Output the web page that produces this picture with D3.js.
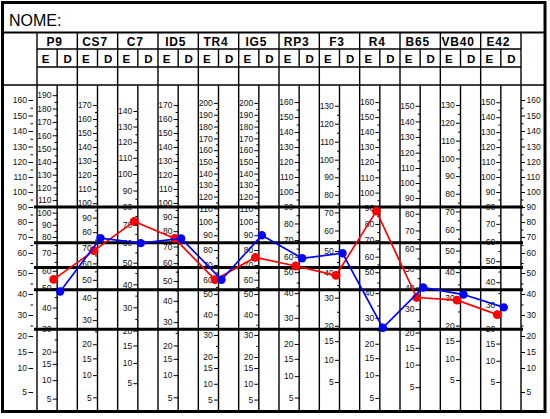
<!DOCTYPE html>
<html><head><meta charset="utf-8">
<script src="https://cdn.jsdelivr.net/npm/d3@7"></script>
<style>html,body{margin:0;padding:0;background:#fff;} svg{display:block;}</style>
</head><body><svg id="c" width="550" height="419"></svg>
<script>
// ---------- DATA ----------
const title = "NOME:";
const tests = ["P9","CS7","C7","ID5","TR4","IG5","RP3","F3","R4","B65","VB40","E42"];
const sides = ["E","D"];
// raw scores, E side (red) and D side (blue)
const valuesE = [55,68,72,75,60,75,54,39,88,35,29,26];
const valuesD = [48,76,60,75,60,90,59,49,26,40,31,29];
// top labelled tick of each test's own scale
const topTicks = [190,170,140,170,200,200,160,130,160,150,130,150];
const lowTicks = [15,10,5];
// common (standard) scale ticks shown on left and right
const stdTicks = [160,150,140,130,120,110,100,90,80,70,60,50,40,30,20,15,10,5];
// conversion table: standard levels -> raw score of each test
const stdLevels = [160,120,90,70,60,50,40,20,10,5];
const normTable = [
  [186.4,140,104.6,80,70,58.75,46.5,26.4,13.3,6.8],   // P9
  [173.6,129.3,97.3,76.7,66.5,54,41.7,22.9,11.6,6.2],  // CS7
  [147,107.3,80,63.3,54.7,45,35.7,17.7,8.6,2.9],       // C7
  [173.6,129.3,97.1,75.9,66,54.2,43.2,23.5,11.6,6.2],  // ID5
  [202.5,150,111,88.7,78,64.7,50,29.5,15,7.4],         // TR4
  [202.5,150,111,88.7,78,64.7,50,29.5,15,7.4],         // IG5
  [161.4,120,90,71.8,62.4,49.5,39.6,22.7,11.9,6.3],    // RP3
  [133.2,98.7,73,56.4,49.1,40,31.3,16.4,7.8,3],        // F3
  [161.4,120,90.6,71.9,62.4,49.5,39.6,22.7,11.6,6.3],  // R4
  [153.7,114,84,66.1,57.6,47.8,36.5,18.5,9,4],         // B65
  [132.8,98,72.5,55.7,49,39.6,31.2,16.3,7.6,2.4],      // VB40
  [151.5,110,80,62.2,54,44.3,34.5,17.2,7.9,2.9]        // E42
];
// bold reference lines on the standard scale
const cutLines = [90,66.4,52.75,42,23.2];

// ---------- LAYOUT ----------
const svg = d3.select("#c");
const F = {x0:2.5, y0:2.5, x1:545, y1:411.5};
const yTitleLine = 32.5, yNameLine = 49, yEDLine = 67, yHeadLine = 85;
const gridX0 = 37, gridX1 = 521;
const stdY = [100,162,207,237,253,273,294,336,368,392];
const yStd = d3.scaleLinear().domain(stdLevels).range(stdY);
const xCol = d3.scaleBand().domain(tests).range([gridX0, gridX1]);
const bw = xCol.bandwidth();
const xDiv = t => xCol(t) + bw/2;
const colScale = tests.map((t,i) => d3.scaleLinear().domain(normTable[i]).range(stdLevels.map(yStd)));
const tickFont = "'Liberation Sans Narrow','Arial Narrow','Liberation Sans',Arial,sans-serif";
const headFont = "'Liberation Sans',Arial,sans-serif";

function minorsOf(ticks){
  const m=[];
  for(let i=0;i<ticks.length-1;i++){ if(ticks[i]-ticks[i+1]===10) m.push(ticks[i]-5); }
  return m;
}
function styleAxis(g){
  g.select(".domain").remove();
  g.selectAll("line").attr("stroke","#000").attr("stroke-width",1);
  g.selectAll("text").attr("font-family",tickFont).attr("font-size","8.5px").attr("fill","#111");
}

// frame & header grid
const grid = svg.append("g").attr("stroke","#000").attr("fill","none");
grid.append("line").attr("x1",F.x0).attr("x2",F.x1).attr("y1",yTitleLine).attr("y2",yTitleLine).attr("stroke-width",2);
grid.append("line").attr("x1",gridX0).attr("x2",gridX1).attr("y1",yNameLine).attr("y2",yNameLine).attr("stroke-width",1.4);
grid.append("line").attr("x1",gridX0).attr("x2",gridX1).attr("y1",yEDLine).attr("y2",yEDLine).attr("stroke-width",1.4);
grid.append("line").attr("x1",F.x0).attr("x2",F.x1).attr("y1",yHeadLine).attr("y2",yHeadLine).attr("stroke-width",1.4);
// column borders
const borders = tests.map(t => xCol(t)).concat([gridX1]);
grid.selectAll("line.cb").data(borders).join("line").attr("class","cb")
  .attr("x1",d=>d).attr("x2",d=>d).attr("y1",yTitleLine).attr("y2",F.y1).attr("stroke-width",1.4);
// E/D dividers
grid.selectAll("line.dv1").data(tests).join("line").attr("class","dv1")
  .attr("x1",xDiv).attr("x2",xDiv).attr("y1",yNameLine).attr("y2",yEDLine).attr("stroke-width",1.4);
grid.selectAll("line.dv2").data(tests).join("line").attr("class","dv2")
  .attr("x1",xDiv).attr("x2",xDiv).attr("y1",yHeadLine).attr("y2",F.y1).attr("stroke-width",1.4);
grid.append("rect").attr("x",F.x0).attr("y",F.y0).attr("width",F.x1-F.x0).attr("height",F.y1-F.y0).attr("stroke-width",3);

// header texts
svg.append("text").attr("x",9).attr("y",25.5).attr("font-family",headFont).attr("font-size","16px").text(title);
svg.selectAll("text.tn").data(tests).join("text").attr("class","tn")
  .attr("x",t=>xCol(t)+bw/2-2.5).attr("y",45.8).attr("text-anchor","middle")
  .attr("font-family",headFont).attr("font-weight","bold").attr("font-size","12px").attr("letter-spacing","0.8px")
  .text(t=>t);
tests.forEach(t=>{
  sides.forEach((s,j)=>{
    svg.append("text").attr("x", xCol(t) + (j===0 ? bw/4-1.5 : 3*bw/4+0.5)).attr("y",63)
      .attr("text-anchor","middle").attr("font-family",headFont).attr("font-weight","bold")
      .attr("font-size","11.5px").text(s);
  });
});

// standard axes left and right
const lx = 33;
svg.append("g").attr("transform",`translate(${lx},0)`)
  .call(d3.axisLeft(yStd).tickValues(stdTicks).tickSize(4.5).tickPadding(1.5).tickFormat(d3.format("d"))).call(styleAxis);
svg.append("g").attr("transform",`translate(${lx},0)`)
  .call(d3.axisLeft(yStd).tickValues(minorsOf(stdTicks)).tickSize(2.5).tickFormat("")).call(styleAxis);
svg.append("g").attr("transform",`translate(${gridX1},0)`)
  .call(d3.axisRight(yStd).tickValues(stdTicks).tickSize(4).tickPadding(1.5).tickFormat(d3.format("d"))).call(styleAxis);
svg.append("g").attr("transform",`translate(${gridX1},0)`)
  .call(d3.axisRight(yStd).tickValues(minorsOf(stdTicks)).tickSize(2.5).tickFormat("")).call(styleAxis);

// per-test axes
tests.forEach((t,i)=>{
  const ticks = d3.range(topTicks[i], 19, -10).concat(lowTicks);
  svg.append("g").attr("transform",`translate(${xDiv(t)},0)`)
    .call(d3.axisLeft(colScale[i]).tickValues(ticks).tickSize(4.5).tickPadding(1.2).tickFormat(d3.format("d"))).call(styleAxis);
  svg.append("g").attr("transform",`translate(${xDiv(t)},0)`)
    .call(d3.axisLeft(colScale[i]).tickValues(minorsOf(ticks)).tickSize(2.5).tickFormat("")).call(styleAxis);
});

// bold reference lines
svg.selectAll("line.cut").data(cutLines).join("line").attr("class","cut")
  .attr("x1",34).attr("x2",523).attr("y1",d=>yStd(d)).attr("y2",d=>yStd(d))
  .attr("stroke","#000").attr("stroke-width",3);

// profiles
function drawProfile(vals, color, dx, r){
  const pts = tests.map((t,i)=>({x: xDiv(t)+dx, y: colScale[i](vals[i])}));
  svg.append("path").datum(pts).attr("fill","none").attr("stroke",color).attr("stroke-width",1.7)
    .attr("d", d3.line().x(d=>d.x).y(d=>d.y));
  svg.selectAll(null).data(pts).join("circle").attr("cx",d=>d.x).attr("cy",d=>d.y).attr("r",r).attr("fill",color);
}
drawProfile(valuesE, "#ff0000", -3.5, 4.4);
drawProfile(valuesD, "#0000ff", 3, 4.2);
</script></body></html>
